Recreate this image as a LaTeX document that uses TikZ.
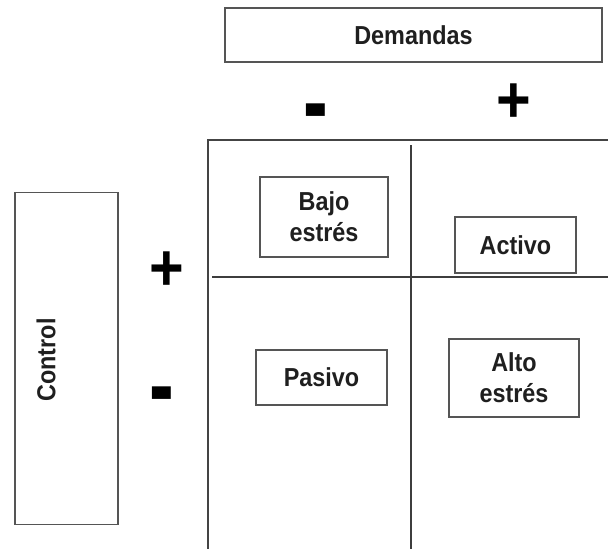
\documentclass[tikz,border=0pt]{standalone}
\usepackage{fontspec}
\setmainfont[FakeStretch=0.9]{Liberation Sans}
\definecolor{boxgray}{HTML}{555555}
\definecolor{linegray}{HTML}{444444}
\newcommand{\fatminus}{\scalebox{1.25}[1.6]{-}}
\tikzset{
  lbl/.style={draw=boxgray, line width=1.6pt, fill=white, align=center, inner sep=0pt,
    font=\fontsize{26}{31}\selectfont\bfseries, text=black!88},
  sign/.style={inner sep=0pt, font=\fontsize{66}{66}\selectfont\bfseries, text=black},
  frame/.style={draw=linegray, line width=1.5pt},
  divider/.style={draw=linegray!90!black, line width=2.6pt}
}
\begin{document}
\begin{tikzpicture}[x=1pt,y=-1pt]
\useasboundingbox (0,0) rectangle (608,549);
% frame and dividers
\coordinate (ftl) at (208,140);
\coordinate (ftr) at (608,140);
\coordinate (fbl) at (208,549);
\coordinate (vt) at (411,145);
\coordinate (vb) at (411,549);
\coordinate (hl) at (212,277);
\coordinate (hr) at (608,277);
\draw[frame] (ftr) -- (ftl) -- (fbl);
\draw[divider] (vt) -- (vb);
\draw[divider] (hl) -- (hr);
% header
\node[lbl, minimum width=377, minimum height=54] (dem) at (413.5,35) {Demandas};
\node[lbl, minimum width=103, minimum height=332] (ctl) at (66.5,358.5) {};
\node[rotate=90, font=\fontsize{26}{31}\selectfont\bfseries, text=black!88, inner sep=0pt] (ctltxt) at (46,360) {Control};
% signs
\node[sign] (dminus) at (316,121) {\fatminus};
\node[sign] (dplus) at (514,103) {+};
\node[sign] (cplus) at (167,271) {+};
\node[sign] (cminus) at (162,404) {\fatminus};
% quadrants
\node[lbl, minimum width=128, minimum height=80] (bajo) at (324,217) {Bajo\\estrés};
\node[lbl, minimum width=121, minimum height=56] (activo) at (515.5,245) {Activo};
\node[lbl, minimum width=131, minimum height=55] (pasivo) at (321.5,377.5) {Pasivo};
\node[lbl, minimum width=130, minimum height=78] (alto) at (514,378) {Alto\\estrés};
\end{tikzpicture}
\end{document}
